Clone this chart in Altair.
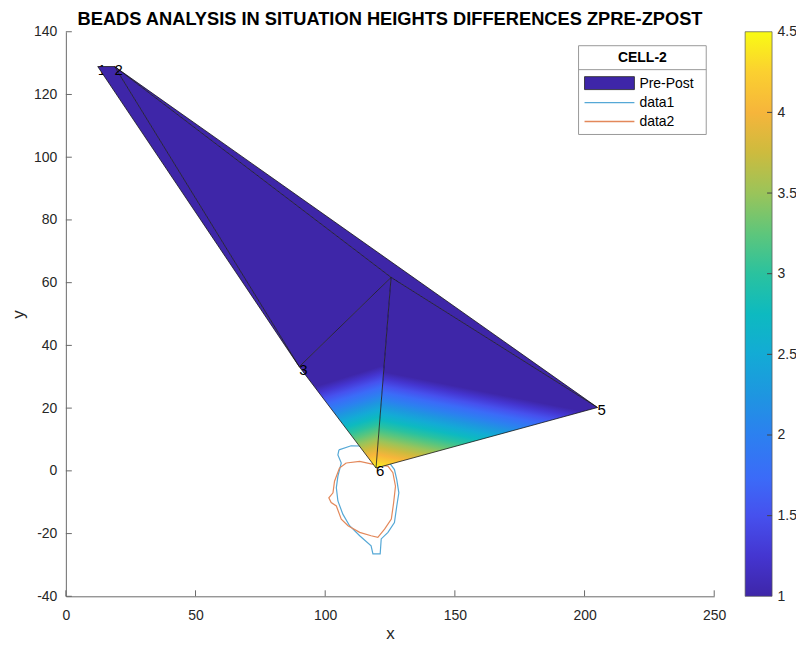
import altair as alt
import pandas as pd

TITLE = "BEADS ANALYSIS IN SITUATION HEIGHTS DIFFERENCES ZPRE-ZPOST"

# bead vertices (x, y, height difference) and their labels
vx = [12.3, 18.8, 90.0, 125.4, 205.0, 119.6]
vy = [128.9, 128.9, 33.2, 61.7, 20.2, 0.9]
vz = [1.0, 1.0, 1.0, 1.0, 1.0, 4.5]
vlab = ["1", "2", "3", "4", "5", "6"]
# labels hidden behind the surface in the view
vlab_behind = [True, False, False, True, False, False]
tris = [[0, 1, 2], [1, 2, 3], [1, 3, 4], [2, 3, 5], [3, 4, 5]]
edges = [[0, 1], [0, 2], [1, 2], [1, 3], [2, 3], [1, 4], [3, 4], [2, 5], [3, 5], [4, 5]]

# cell outlines
d1x = [105.3, 110.0, 118.4, 124.8, 126.7, 127.6, 128.4, 127.6, 126.7, 124.2, 121.6, 121.2,
       118.4, 117.7, 113.3, 109.4, 106.8, 104.9, 104.3, 104.9, 106.2, 104.9, 105.3]
d1y = [6.7, 8.0, 7.8, 2.5, 0.4, -2.8, -7.0, -11.2, -16.5, -19.6, -21.7, -26.5,
       -26.5, -23.9, -20.7, -17.5, -13.8, -9.6, -5.4, -1.7, 2.5, 5.1, 6.7]
d2x = [108.1, 113.3, 119.0, 124.2, 126.1, 127.1, 126.4, 125.5, 122.9, 120.3, 117.7,
       113.3, 108.8, 106.2, 104.3, 102.3, 101.4, 103.0, 103.6, 105.5, 108.1]
d2y = [2.5, 3.0, 2.0, 1.5, -0.6, -4.9, -10.1, -15.4, -18.6, -21.2, -20.7,
       -19.6, -17.5, -15.4, -11.2, -10.1, -8.6, -7.0, -3.3, 0.9, 2.5]

xticks = [0, 50, 100, 150, 200, 250]
yticks = [-40, -20, 0, 20, 40, 60, 80, 100, 120, 140]
cticks = [1, 1.5, 2, 2.5, 3, 3.5, 4, 4.5]
legend_title = "CELL-2"
legend_names = ["Pre-Post", "data1", "data2"]

# ---------------- style ----------------
FONT = "Liberation Sans"
W, H = 650, 566
XD = [0, 250]
YD = [-40, 140]
C1 = "#55a8d6"
C2 = "#e3885a"
AX = "#6a6a6a"
TXT = "#262626"
PARULA = [(0.0, "#3e26a8"), (0.07, "#4435d0"), (0.143, "#4651ee"), (0.21, "#3b6bf8"),
          (0.286, "#2c80f0"), (0.357, "#1e96e0"), (0.429, "#13abd5"), (0.5, "#0dbac0"),
          (0.571, "#2ac29f"), (0.643, "#5ec67b"), (0.714, "#9ac45a"), (0.786, "#cdbb3e"),
          (0.857, "#f6b53b"), (0.929, "#fbd030"), (1.0, "#f9fb14")]
# shading fall-off direction (screen space) for faces touching the high vertex
SHADE_DIR = {3: (-0.298, -0.954), 4: (0.193, -0.981)}
FADE_PX = 96.0

sx = W / (XD[1] - XD[0])
sy = H / (YD[1] - YD[0])
cmin, cmax = cticks[0], cticks[-1]

xs = alt.Scale(domain=XD, nice=False, zero=False)
ys = alt.Scale(domain=YD, nice=False, zero=False)
xaxis = alt.Axis(values=xticks, ticks=False, grid=False, title="x", labelFontSize=14,
                 titleFontSize=17, titleFontWeight="normal", labelFont=FONT, titleFont=FONT,
                 labelColor=TXT, titleColor=TXT, domainColor=AX, labelPadding=12,
                 titlePadding=3, labelFlush=False, labelExpr="'' + datum.value")
yaxis = alt.Axis(values=yticks, ticks=False, grid=False, title="y", labelFontSize=14,
                 titleFontSize=17, titleFontWeight="normal", labelFont=FONT, titleFont=FONT,
                 labelColor=TXT, titleColor=TXT, domainColor=AX, labelPadding=9,
                 titlePadding=6, labelFlush=False, labelExpr="'' + datum.value")


def X(f):
    return alt.X(f, type="quantitative", scale=xs, axis=xaxis)


def Y(f):
    return alt.Y(f, type="quantitative", scale=ys, axis=yaxis)


def tri_fill(ti):
    tri = tris[ti]
    zs = [vz[i] for i in tri]
    zmin = min(vz)
    if max(zs) <= zmin:
        return PARULA[0][1]
    apex = tri[zs.index(max(zs))]
    za = vz[apex]
    P = [((vx[i] - XD[0]) * sx, (YD[1] - vy[i]) * sy) for i in tri]
    mnx = min(p[0] for p in P); mxx = max(p[0] for p in P)
    mny = min(p[1] for p in P); mxy = max(p[1] for p in P)
    bw, bh = mxx - mnx, mxy - mny
    ax_, ay_ = (vx[apex] - XD[0]) * sx, (YD[1] - vy[apex]) * sy
    u0, v0 = (ax_ - mnx) / bw, (ay_ - mny) / bh
    n = SHADE_DIR[ti]
    a0, a1 = n[0] * bw, n[1] * bh
    s = FADE_PX / (a0 * a0 + a1 * a1)
    stops = []
    for t, col in PARULA:
        v = cmin + t * (cmax - cmin)
        off = (za - v) / (za - zmin)
        if 0 <= off <= 1:
            stops.append((off, col))
    stops.sort()
    return alt.LinearGradient(gradient="linear",
                              stops=[alt.GradientStop(offset=o, color=c) for o, c in stops],
                              x1=u0, y1=v0, x2=u0 + a0 * s, y2=v0 + a1 * s)


layers = []

# cell outlines (below the surface)
cur = pd.DataFrame({
    "x": d1x + d2x,
    "y": d1y + d2y,
    "k": list(range(len(d1x))) + list(range(len(d2x))),
    "s": ["data1"] * len(d1x) + ["data2"] * len(d2x),
})
layers.append(alt.Chart(cur).mark_line(strokeWidth=1.2).encode(
    x=X("x"), y=Y("y"), order=alt.Order("k:Q"), detail="s:N",
    color=alt.Color("s:N", scale=alt.Scale(domain=["data1", "data2"], range=[C1, C2]), legend=None)))

lab = pd.DataFrame({"x": vx, "y": vy, "t": vlab, "b": vlab_behind})


def label_layer(behind):
    return alt.Chart(lab).transform_filter(
        "datum.b" if behind else "!datum.b"
    ).mark_text(align="left", baseline="middle", dx=0, dy=3, fontSize=15,
                font=FONT, color="black").encode(x=X("x"), y=Y("y"), text="t:N")


layers.append(label_layer(True))

# surface faces
for ti, tri in enumerate(tris):
    idx = tri + [tri[0]]
    df = pd.DataFrame({"x": [vx[i] for i in idx], "y": [vy[i] for i in idx], "k": list(range(len(idx)))})
    layers.append(alt.Chart(df).mark_line(fill=tri_fill(ti), stroke="transparent", strokeWidth=0).encode(
        x=X("x"), y=Y("y"), order=alt.Order("k:Q")))

# edges
erows = []
for ei, (a, b) in enumerate(edges):
    erows.append({"x": vx[a], "y": vy[a], "k": 0, "e": ei})
    erows.append({"x": vx[b], "y": vy[b], "k": 1, "e": ei})
layers.append(alt.Chart(pd.DataFrame(erows)).mark_line(color="#111111", strokeWidth=0.9, opacity=0.85).encode(
    x=X("x"), y=Y("y"), order=alt.Order("k:Q"), detail="e:N"))

layers.append(label_layer(False))

# inward axis ticks
layers.append(alt.Chart(pd.DataFrame({"x": xticks})).mark_rule(color=AX, strokeWidth=1).encode(
    x=X("x"), y=alt.value(H), y2=alt.value(H - 6)))
layers.append(alt.Chart(pd.DataFrame({"y": yticks})).mark_rule(color=AX, strokeWidth=1).encode(
    y=Y("y"), x=alt.value(0), x2=alt.value(6)))

# legend box
one = pd.DataFrame({"a": [0]})
LX0, LX1, LY0, LY1, LSEP = 514, 642, 14, 103, 38
layers.append(alt.Chart(one).mark_rect(fill="white", stroke="#9a9a9a", strokeWidth=1).encode(
    x=alt.value(LX0), x2=alt.value(LX1), y=alt.value(LY0), y2=alt.value(LY1)))
layers.append(alt.Chart(one).mark_rule(color="#9a9a9a", strokeWidth=1).encode(
    x=alt.value(LX0), x2=alt.value(LX1), y=alt.value(LSEP)))
layers.append(alt.Chart(one).mark_text(text=legend_title, fontSize=14, fontWeight="bold", font=FONT,
                                       color="black", align="center", baseline="middle").encode(
    x=alt.value((LX0 + LX1) / 2), y=alt.value(26)))
layers.append(alt.Chart(one).mark_rect(fill=PARULA[0][1], stroke="#222222", strokeWidth=0.8).encode(
    x=alt.value(520), x2=alt.value(570), y=alt.value(45), y2=alt.value(58)))
layers.append(alt.Chart(one).mark_rule(color=C1, strokeWidth=1.3).encode(
    x=alt.value(520), x2=alt.value(570), y=alt.value(71)))
layers.append(alt.Chart(one).mark_rule(color=C2, strokeWidth=1.3).encode(
    x=alt.value(520), x2=alt.value(570), y=alt.value(90)))
for name, yy in zip(legend_names, [52, 71, 90]):
    layers.append(alt.Chart(one).mark_text(text=name, fontSize=14, font=FONT, color="black",
                                           align="left", baseline="middle").encode(
        x=alt.value(575), y=alt.value(yy)))

main = alt.layer(*layers)

# colour bar
cscale = alt.Scale(domain=[cmin, cmax], nice=False, zero=False)
caxis = alt.Axis(orient="right", offset=58, values=cticks, ticks=False, domain=False, grid=False,
                 title="", labelFontSize=14, labelFont=FONT, labelColor=TXT, labelPadding=5,
                 labelFlush=False, labelExpr="'' + datum.value")
cgrad = alt.LinearGradient(gradient="linear",
                           stops=[alt.GradientStop(offset=t, color=c) for t, c in PARULA],
                           x1=0, y1=1, x2=0, y2=0)
cbdf = pd.DataFrame({"lo": [cmin], "hi": [cmax]})
cbar = alt.Chart(cbdf).mark_rect(fill=cgrad, stroke="#555555", strokeWidth=0.7).encode(
    x=alt.value(681), x2=alt.value(708),
    y=alt.Y("lo:Q", scale=cscale, axis=caxis), y2="hi:Q")
ctick = alt.Chart(pd.DataFrame({"t": cticks[1:-1]})).mark_rule(color="#444444", strokeWidth=1).encode(
    x=alt.value(703), x2=alt.value(708), y=alt.Y("t:Q", scale=cscale, axis=caxis))
cb = alt.layer(cbar, ctick)

chart = alt.layer(main, cb).resolve_scale(y="independent").properties(
    width=W, height=H,
    title=alt.TitleParams(text=TITLE, fontSize=18.3, fontWeight="bold", font=FONT, color="black",
                          anchor="middle", frame="group", offset=-5),
    padding={"left": 58, "top": 23, "right": 82, "bottom": 45},
    autosize=alt.AutoSizeParams(type="none"),
    background="white",
).configure_view(strokeWidth=0)

chart.save("out.html", embed_options={"renderer": "svg", "actions": False})
